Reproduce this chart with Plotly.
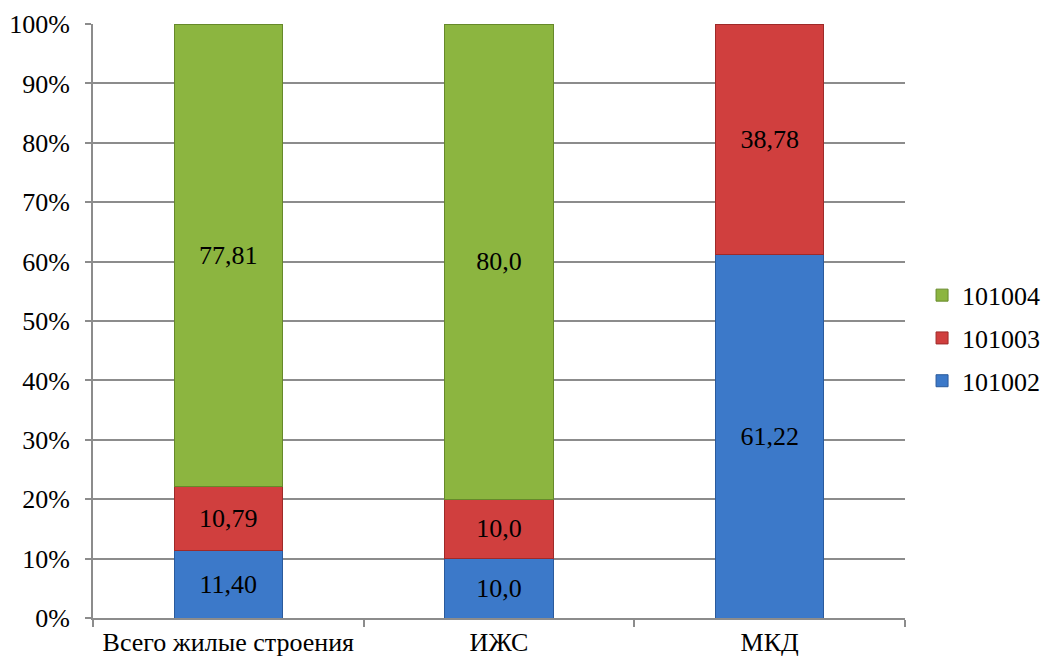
import plotly.graph_objects as go

# Housing categories and share of each code group (percent)
categories = ["Всего жилые строения", "ИЖС", "МКД"]
share_101002 = [11.40, 10.0, 61.22]
share_101003 = [10.79, 10.0, 38.78]
share_101004 = [77.81, 80.0, 0.0]
label_decimals = [2, 1, 2]

# name, values, fill, edge, legend rank (top to bottom)
series = [
    ("101002", share_101002, "#3c79c9", "#2a5a9c", 3),
    ("101003", share_101003, "#d03f3e", "#9e2a29", 2),
    ("101004", share_101004, "#8cb540", "#66892a", 1),
]

FONT = "Liberation Serif"
SIZE = 26


def fmt(v, d):
    if v == 0:
        return ""
    return f"{v:.{d}f}".replace(".", ",")


fig = go.Figure()
for name, vals, color, edge, rank in series:
    fig.add_trace(go.Bar(
        name=name,
        x=categories,
        y=[v if v > 0 else None for v in vals],
        text=[fmt(v, d) for v, d in zip(vals, label_decimals)],
        textposition="inside",
        insidetextanchor="middle",
        textfont=dict(family=FONT, size=SIZE, color="black"),
        marker=dict(color=color, line=dict(color=edge, width=1)),
        width=0.4,
        legendgroup=name,
        legendrank=rank,
        hoverinfo="skip",
    ))

fig.update_layout(
    barmode="stack",
    width=1048,
    height=662,
    margin=dict(l=93, r=143, t=24, b=44, autoexpand=False),
    paper_bgcolor="white",
    plot_bgcolor="white",
    font=dict(family=FONT, size=SIZE, color="black"),
    showlegend=True,
    legend=dict(
        traceorder="grouped",
        x=1.021, xanchor="left",
        y=0.471, yanchor="middle",
        tracegroupgap=6,
        font=dict(family=FONT, size=SIZE, color="black"),
        itemwidth=30,
    ),
    uniformtext=dict(mode="show", minsize=10),
)
fig.update_xaxes(
    type="category",
    showgrid=False,
    showline=True, linecolor="#8c8c8c", linewidth=2,
    ticks="outside", tickson="boundaries", ticklen=7, tickcolor="#8c8c8c", tickwidth=2,
    tickfont=dict(family=FONT, size=SIZE, color="black"),
)
fig.update_yaxes(
    range=[0, 100],
    dtick=10,
    ticksuffix="%",
    showgrid=True, gridcolor="#8c8c8c", gridwidth=2,
    showline=True, linecolor="#8c8c8c", linewidth=2,
    ticks="outside", ticklen=6, tickcolor="#8c8c8c", tickwidth=2,
    ticklabelstandoff=10,
    tickfont=dict(family=FONT, size=SIZE, color="black"),
    zeroline=False,
)

fig.write_html("out.html")
